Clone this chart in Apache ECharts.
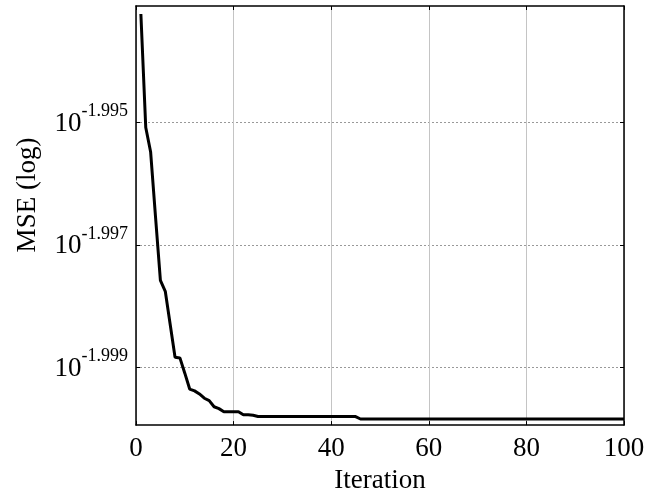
<!DOCTYPE html>
<html>
<head>
<meta charset="utf-8">
<script src="https://cdn.jsdelivr.net/npm/echarts@6/dist/echarts.min.js"></script>
<style>html,body{margin:0;padding:0;background:#fff}#c{width:660px;height:499px}</style>
</head>
<body>
<div id="c"></div>
<script>
// Iteration index (x) and log10(MSE)
const iterations = [1,2,3,4,5,6,7,8,9,10,11,12,13,14,15,16,17,18,19,20,
  21,22,23,24,25,26,27,28,29,30,31,32,33,34,35,36,37,38,39,40,
  41,42,43,44,45,46,47,48,49,50,51,52,53,54,55,56,57,58,59,60,
  61,62,63,64,65,66,67,68,69,70,71,72,73,74,75,76,77,78,79,80,
  81,82,83,84,85,86,87,88,89,90,91,92,93,94,95,96,97,98,99,100];
const log10Mse = [
  -1.99322,-1.99508,-1.99548,-1.99654,-1.99758,-1.99776,-1.99830,-1.99884,-1.99885,-1.99910,
  -1.99936,-1.99939,-1.99944,-1.99951,-1.99955,-1.99965,-1.99968,-1.99973,-1.99973,-1.99973,
  -1.99973,-1.99978,-1.99978,-1.99979,-1.99981,-1.99981,-1.99981,-1.99981,-1.99981,-1.99981,
  -1.99981,-1.99981,-1.99981,-1.99981,-1.99981,-1.99981,-1.99981,-1.99981,-1.99981,-1.99981,
  -1.99981,-1.99981,-1.99981,-1.99981,-1.99981,-1.99985,-1.99985,-1.99985,-1.99985,-1.99985,
  -1.99985,-1.99985,-1.99985,-1.99985,-1.99985,-1.99985,-1.99985,-1.99985,-1.99985,-1.99985,
  -1.99985,-1.99985,-1.99985,-1.99985,-1.99985,-1.99985,-1.99985,-1.99985,-1.99985,-1.99985,
  -1.99985,-1.99985,-1.99985,-1.99985,-1.99985,-1.99985,-1.99985,-1.99985,-1.99985,-1.99985,
  -1.99985,-1.99985,-1.99985,-1.99985,-1.99985,-1.99985,-1.99985,-1.99985,-1.99985,-1.99985,
  -1.99985,-1.99985,-1.99985,-1.99985,-1.99985,-1.99985,-1.99985,-1.99985,-1.99985,-1.99985];
const yTickExponents = [-1.999, -1.997, -1.995];
const xTicks = [0, 20, 40, 60, 80, 100];
const xTitle = 'Iteration';
const yTitle = 'MSE (log)';

const FONT = '"Liberation Serif", "Times New Roman", serif';
const yMin = -1.99995, yMax = -1.99309;

const chart = echarts.init(document.getElementById('c'), null, {renderer: 'canvas'});
const seriesData = iterations.map((x, i) => [x, log10Mse[i]]);

const yLabelFmt = v => '{b|10}{s|' + v.toFixed(3) + '}';
const yRich = {
  b: {fontFamily: FONT, fontSize: 27, color: '#000', lineHeight: 30, verticalAlign: 'bottom'},
  s: {fontFamily: FONT, fontSize: 18, color: '#000', lineHeight: 18, verticalAlign: 'bottom', padding: [0, 0, 17, 0]}
};

const option = {
  animation: false,
  backgroundColor: '#fff',
  grid: {left: 136, right: 36, top: 6, bottom: 72, containLabel: false},
  xAxis: [{
    type: 'value', min: 0, max: 100, interval: 20, position: 'bottom',
    name: xTitle, nameLocation: 'middle', nameGap: 37,
    nameTextStyle: {fontFamily: FONT, fontSize: 27, color: '#000'},
    axisLine: {show: true, onZero: false, lineStyle: {color: '#000', width: 1.5}},
    axisTick: {show: true, inside: true, length: 4, lineStyle: {color: '#000'}},
    axisLabel: {fontFamily: FONT, fontSize: 27, color: '#000', margin: 10,
      customValues: xTicks},
    splitLine: {show: true, lineStyle: {color: '#c4c4c4', width: 1, type: 'solid'}}
  }, {
    type: 'value', min: 0, max: 100, interval: 20, position: 'top',
    axisLine: {show: true, onZero: false, lineStyle: {color: '#000', width: 1.5}},
    axisTick: {show: true, inside: true, length: 4, lineStyle: {color: '#000'}},
    axisLabel: {show: false},
    splitLine: {show: false}
  }],
  yAxis: [{
    type: 'value', min: yMin, max: yMax, position: 'left',
    axisLine: {show: true, onZero: false, lineStyle: {color: '#000', width: 1.5}},
    axisTick: {show: true, inside: true, length: 4, lineStyle: {color: '#000'}, customValues: yTickExponents},
    axisLabel: {show: true, margin: 8, customValues: yTickExponents, formatter: yLabelFmt, rich: yRich},
    splitLine: {show: true, lineStyle: {color: '#999', width: 1, type: [2, 2]}}
  }, {
    type: 'value', min: yMin, max: yMax, position: 'right',
    axisLine: {show: true, onZero: false, lineStyle: {color: '#000', width: 1.5}},
    axisTick: {show: true, inside: true, length: 4, lineStyle: {color: '#000'}, customValues: yTickExponents},
    axisLabel: {show: false, customValues: yTickExponents},
    splitLine: {show: false}
  }],
  graphic: [{
    type: 'text', x: 28, y: 195, rotation: Math.PI / 2,
    style: {text: yTitle, font: '27px ' + FONT, fill: '#000', align: 'center', verticalAlign: 'middle'}
  }],
  series: [{
    type: 'line', xAxisIndex: 0, yAxisIndex: 0, data: seriesData,
    showSymbol: false, symbol: 'none',
    lineStyle: {color: '#000', width: 3}, clip: true
  }]
};
chart.setOption(option);
</script>
</body>
</html>
